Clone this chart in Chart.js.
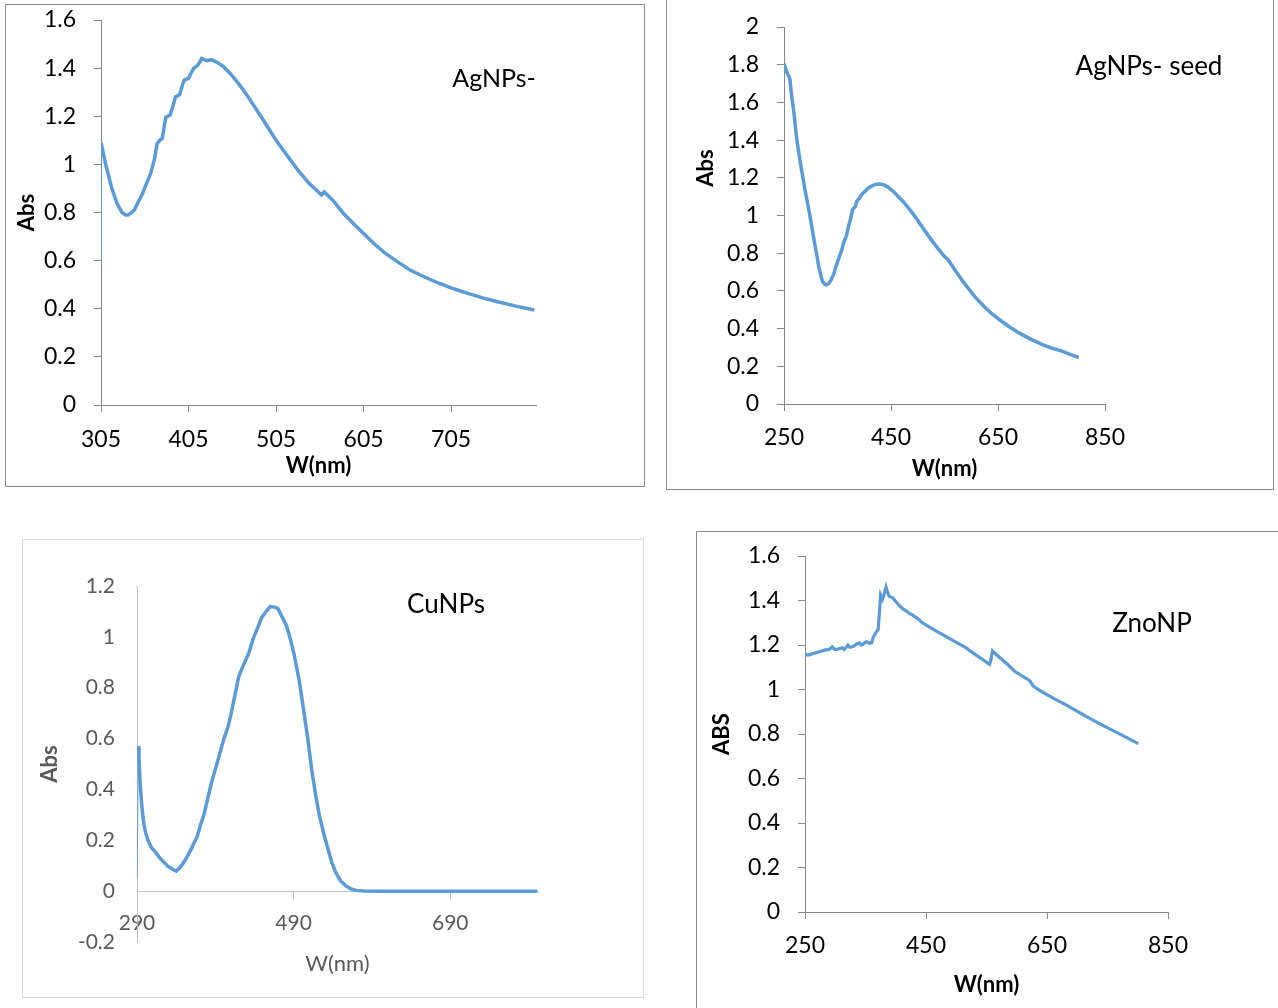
<!DOCTYPE html>
<html>
<head>
<meta charset="utf-8">
<script src="https://cdn.jsdelivr.net/npm/chart.js@4/dist/chart.umd.min.js"></script>
<style>
  html, body { margin: 0; padding: 0; background: #fff; overflow: hidden; width: 1278px; height: 1008px; }
  .frame { position: absolute; box-sizing: border-box; border: 1px solid #8c8c8c; pointer-events: none; }
  canvas { position: absolute; }
</style>
</head>
<body>
<div class="frame" style="left:5px;top:4px;width:640px;height:483px"></div>
<div class="frame" style="left:666px;top:-1px;width:608px;height:491px"></div>
<div class="frame" style="left:22px;top:539px;width:622px;height:459px;border-color:#d9d9d9"></div>
<div class="frame" style="left:696px;top:531px;width:620px;height:520px"></div>
<canvas id="ag" width="640" height="483" style="left:5px;top:4px"></canvas>
<canvas id="seed" width="608" height="491" style="left:666px;top:-1px"></canvas>
<canvas id="cu" width="622" height="459" style="left:22px;top:539px"></canvas>
<canvas id="zn" width="582" height="477" style="left:696px;top:531px"></canvas>
<script>
// AgNPs-
let agWave = [305, 311, 317, 323, 329, 333, 336, 340, 343, 347, 352, 357, 362, 366, 369, 372, 375, 379, 384, 387, 390, 395, 398, 400, 405, 408, 411, 415, 418, 420, 423, 426, 431, 437, 445, 452, 459, 466, 473, 480, 488, 496, 505, 517, 530, 543, 557, 560, 570, 582, 593, 605, 617, 630, 644, 658, 674, 691, 708, 724, 741, 758, 779, 800];
let agAbs = [1.09, 0.99, 0.905, 0.84, 0.80, 0.79, 0.79, 0.80, 0.81, 0.84, 0.875, 0.92, 0.965, 1.02, 1.085, 1.10, 1.108, 1.195, 1.205, 1.24, 1.28, 1.29, 1.33, 1.35, 1.357, 1.38, 1.40, 1.41, 1.425, 1.44, 1.435, 1.431, 1.435, 1.425, 1.406, 1.38, 1.35, 1.317, 1.281, 1.242, 1.198, 1.152, 1.10, 1.04, 0.976, 0.92, 0.873, 0.886, 0.85, 0.796, 0.755, 0.713, 0.67, 0.63, 0.595, 0.561, 0.533, 0.506, 0.483, 0.464, 0.445, 0.429, 0.411, 0.395];
let agStubWave = [305, 305.2];
let agStubAbs = [0.57, 1.09];
let agXTicks = [305, 405, 505, 605, 705];
let agYTicks = [0, 0.2, 0.4, 0.6, 0.8, 1, 1.2, 1.4, 1.6];

// AgNPs- seed
let seedWave = [250, 255, 261, 264, 268, 272, 275, 280, 284, 289, 293, 299, 304, 310, 315, 319, 322, 326, 329, 334, 338, 343, 347, 352, 358, 362, 367, 371, 374, 378, 383, 387, 391, 396, 401, 407, 415, 420, 426, 432, 437, 446, 455, 464, 473, 484, 495, 508, 521, 535, 550, 557, 572, 587, 605, 624, 638, 653, 671, 690, 712, 734, 752, 771, 786, 801];
let seedAbs = [1.806, 1.762, 1.726, 1.64, 1.559, 1.45, 1.382, 1.29, 1.223, 1.14, 1.082, 0.99, 0.906, 0.81, 0.729, 0.68, 0.65, 0.635, 0.632, 0.64, 0.658, 0.69, 0.729, 0.77, 0.817, 0.86, 0.895, 0.95, 0.976, 1.03, 1.047, 1.08, 1.091, 1.115, 1.126, 1.145, 1.158, 1.164, 1.167, 1.166, 1.162, 1.147, 1.126, 1.10, 1.073, 1.035, 0.994, 0.94, 0.888, 0.835, 0.782, 0.764, 0.70, 0.641, 0.575, 0.517, 0.48, 0.447, 0.41, 0.376, 0.343, 0.314, 0.295, 0.279, 0.262, 0.247];
let seedXTicks = [250, 450, 650, 850];
let seedYTicks = [0, 0.2, 0.4, 0.6, 0.8, 1, 1.2, 1.4, 1.6, 1.8, 2];

// CuNPs
let cuWave = [291.6, 292.5, 294, 295.5, 297, 299, 301, 304, 308.5, 313, 319, 324, 330, 335, 340, 344, 348, 353, 359, 363, 367, 371, 375, 380, 385, 391, 396, 401, 406.5, 411, 415, 420, 426, 433, 438, 444, 449, 455, 460, 466, 470, 475, 481, 486, 491, 497, 502, 508, 513, 518, 523, 529, 534, 539, 544, 550, 557, 563, 570, 580, 600, 700, 801];
let cuAbs = [0.57, 0.52, 0.426, 0.36, 0.308, 0.26, 0.23, 0.20, 0.171, 0.155, 0.131, 0.115, 0.096, 0.087, 0.079, 0.09, 0.105, 0.13, 0.164, 0.19, 0.216, 0.26, 0.295, 0.36, 0.426, 0.49, 0.544, 0.60, 0.648, 0.71, 0.77, 0.845, 0.89, 0.938, 0.99, 1.035, 1.075, 1.10, 1.119, 1.117, 1.111, 1.08, 1.043, 0.99, 0.925, 0.83, 0.728, 0.6, 0.479, 0.38, 0.295, 0.22, 0.164, 0.11, 0.072, 0.04, 0.02, 0.009, 0.003, 0.001, 0, 0, 0];
let cuStubWave = [290.3, 291.6];
let cuStubAbs = [0.05, 0.57];
let cuXTicks = [290, 490, 690];
let cuYTicks = [-0.2, 0, 0.2, 0.4, 0.6, 0.8, 1, 1.2];

// ZnoNP
let znWave = [250, 255, 259, 265, 272, 278, 284, 290, 295, 299, 303, 308, 312, 315, 318, 321, 324, 327, 331, 335, 340, 343, 346, 349, 352, 356, 360, 363, 366, 371, 375, 378, 381, 384, 386, 389, 392, 395, 401, 407, 412, 417, 420, 423, 426, 430, 434, 438, 443, 450, 457, 470, 482, 495, 506, 516, 522, 531, 543, 555, 557, 560, 567, 575, 586, 596, 607, 618, 622, 627, 637, 649, 664, 680, 698, 717, 736, 755, 778, 801];
let znAbs = [1.158, 1.155, 1.158, 1.163, 1.168, 1.173, 1.178, 1.18, 1.191, 1.18, 1.18, 1.185, 1.188, 1.18, 1.19, 1.2, 1.19, 1.191, 1.195, 1.205, 1.21, 1.2, 1.203, 1.212, 1.215, 1.208, 1.21, 1.235, 1.25, 1.27, 1.425, 1.406, 1.43, 1.46, 1.44, 1.42, 1.415, 1.412, 1.392, 1.375, 1.362, 1.353, 1.348, 1.34, 1.338, 1.33, 1.323, 1.315, 1.302, 1.29, 1.278, 1.258, 1.24, 1.22, 1.203, 1.188, 1.175, 1.158, 1.136, 1.113, 1.13, 1.173, 1.155, 1.136, 1.11, 1.083, 1.064, 1.046, 1.038, 1.016, 0.997, 0.978, 0.956, 0.933, 0.905, 0.876, 0.848, 0.821, 0.789, 0.757];
let znXTicks = [250, 450, 650, 850];
let znYTicks = [0, 0.2, 0.4, 0.6, 0.8, 1, 1.2, 1.4, 1.6];

const BLUE = "#5b9bd5";
const FONT = "Lato, 'Open Sans', sans-serif";

// free text drawn on the canvas (text boxes of the original)
const notePlugin = {
  id: "notes",
  afterDraw(chart, args, opts) {
    const ctx = chart.ctx;
    (opts.items || []).forEach((n) => {
      ctx.save();
      ctx.font = n.font;
      ctx.fillStyle = n.color || "#000";
      ctx.textAlign = "center";
      ctx.textBaseline = "middle";
      ctx.translate(n.x, n.y);
      if (n.rotate) ctx.rotate(n.rotate);
      ctx.fillText(n.text, 0, 0);
      ctx.restore();
    });
  },
};

function series(xs, ys, width) {
  return {
    data: xs.map((x, i) => ({ x: x, y: ys[i] })),
    borderColor: BLUE,
    borderWidth: width,
    pointRadius: 0,
    tension: 0,
    fill: false,
  };
}

function makeChart(p) {
  return new Chart(document.getElementById(p.id), {
    type: "line",
    data: { datasets: p.sets },
    options: {
      responsive: false,
      animation: false,
      events: [],
      layout: { autoPadding: false, padding: { left: 0, top: p.padTop, right: p.padRight, bottom: p.padBottom || 0 } },
      plugins: {
        legend: { display: false },
        tooltip: { enabled: false },
        notes: { items: p.notes },
      },
      scales: {
        x: {
          type: "linear",
          min: p.xMin,
          max: p.xMax,
          position: p.xPos || "bottom",
          afterBuildTicks: (s) => { s.ticks = p.xTicks.map((v) => ({ value: v })); },
          afterFit: (s) => {
            s.height = p.xHeight;
            s.paddingLeft = 0;
            s.paddingRight = 0;
          },
          grid: { drawOnChartArea: false, drawTicks: true, tickLength: 7, color: p.axisColor },
          border: { color: p.axisColor, width: 1 },
          ticks: {
            font: { family: FONT, size: p.tickSize }, color: p.tickColor, padding: p.xPad,
            maxRotation: 0, autoSkip: false, callback: (v) => String(v),
          },
          title: {
            display: true,
            text: "W(nm)",
            color: p.tickColor,
            font: { family: FONT, size: 22, weight: p.xTitleWeight || "bold" },
            padding: { top: 0, bottom: p.xTitlePad },
          },
        },
        y: {
          type: "linear",
          min: p.yTicks[0],
          max: p.yTicks[p.yTicks.length - 1],
          afterBuildTicks: (s) => { s.ticks = p.yTicks.map((v) => ({ value: v })); },
          afterFit: (s) => {
            s.width = p.yWidth;
            s.paddingTop = 0;
            s.paddingBottom = 0;
          },
          grid: { drawOnChartArea: false, drawTicks: p.yTickMarks !== false, tickLength: 7, color: p.axisColor },
          border: { color: p.axisColor, width: 1 },
          ticks: {
            font: { family: FONT, size: p.tickSize }, color: p.tickColor, padding: p.yPad,
            autoSkip: false, callback: (v) => String(parseFloat(v.toFixed(1))),
          },
          title: {
            display: !!p.yTitle,
            text: p.yTitle || "",
            color: p.tickColor,
            font: { family: FONT, size: 22, weight: "bold" },
            padding: { top: p.yTitlePad || 0, bottom: 0 },
          },
        },
      },
    },
    plugins: [notePlugin],
  });
}

makeChart({
  id: "ag",
  sets: [series(agWave, agAbs, 3.5), series(agStubWave, agStubAbs, 1)],
  xMin: 305, xMax: 802, xTicks: agXTicks, yTicks: agYTicks,
  padTop: 16, padRight: 109, yWidth: 96, xHeight: 82,
  axisColor: "#868686", tickColor: "#000", tickSize: 23,
  xPad: 14, yPad: 18, xTitlePad: 8, yTitle: "Abs", yTitlePad: 9,
  notes: [{ text: "AgNPs-", x: 494 - 5, y: 79 - 4, font: "25px " + FONT }],
});

makeChart({
  id: "seed",
  sets: [series(seedWave, seedAbs, 3.5)],
  xMin: 250, xMax: 850, xTicks: seedXTicks, yTicks: seedYTicks,
  padTop: 28, padRight: 169, yWidth: 118, xHeight: 86,
  axisColor: "#868686", tickColor: "#000", tickSize: 23,
  xPad: 13, yPad: 18, xTitlePad: 8,
  notes: [
    { text: "AgNPs- seed", x: 1149 - 666, y: 67 + 1, font: "26px " + FONT },
    { text: "Abs", x: 706 - 666, y: 168 + 1, font: "bold 22px " + FONT, rotate: -Math.PI / 2 },
  ],
});

makeChart({
  id: "cu",
  sets: [series(cuWave, cuAbs, 3.5), series(cuStubWave, cuStubAbs, 1)],
  xMin: 290, xMax: 802, xTicks: cuXTicks, yTicks: cuYTicks, xPos: { y: 0 },
  padTop: 47, padRight: 106, padBottom: 56, yWidth: 115, xHeight: 90,
  axisColor: "#bfbfbf", tickColor: "#595959", tickSize: 21,
  xPad: 12, yPad: 22, xTitlePad: 4, xTitleWeight: "normal", yTitle: "Abs", yTitlePad: 15, yTickMarks: false,
  notes: [{ text: "CuNPs", x: 446 - 22, y: 605 - 539, font: "26px " + FONT }],
});

makeChart({
  id: "zn",
  sets: [series(znWave, znAbs, 3.2)],
  xMin: 250, xMax: 850, xTicks: znXTicks, yTicks: znYTicks,
  padTop: 25, padRight: 110, yWidth: 109, xHeight: 96,
  axisColor: "#868686", tickColor: "#000", tickSize: 23,
  xPad: 13, yPad: 18, xTitlePad: 10, yTitle: "ABS", yTitlePad: 13,
  notes: [{ text: "ZnoNP", x: 1152 - 696, y: 624 - 531, font: "26px " + FONT }],
});
</script>
</body>
</html>
